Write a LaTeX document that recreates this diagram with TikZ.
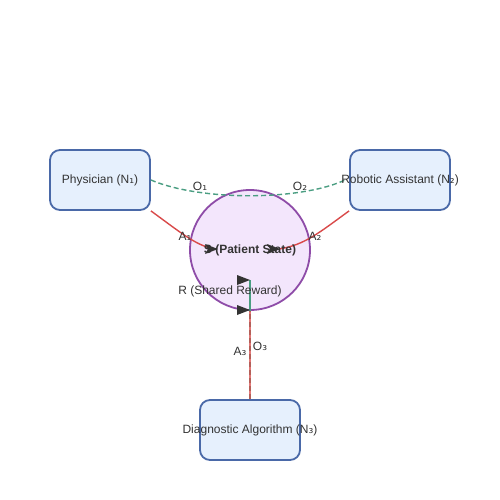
\documentclass[tikz,border=0pt]{standalone}
\usepackage{fontspec}
\setmainfont{Liberation Sans}
\newfontfamily\subfont{DejaVu Sans}
\usetikzlibrary{calc}
\definecolor{boxfill}{HTML}{E6F0FD}
\definecolor{boxdraw}{HTML}{4A69A8}
\definecolor{circfill}{HTML}{F3E6FC}
\definecolor{circdraw}{HTML}{8E4CA8}
\definecolor{redline}{HTML}{D94A4A}
\definecolor{greenline}{HTML}{4A9E82}
\definecolor{txt}{HTML}{333333}
\newcommand{\sbs}[1]{{\subfont #1}}
\tikzset{
  agent/.style={draw=boxdraw, fill=boxfill, line width=1.8pt, rounded corners=10pt, minimum width=100pt, minimum height=60pt, inner sep=0pt},
  statec/.style={circle, draw=circdraw, fill=circfill, line width=1.8pt, minimum size=120pt, inner sep=0pt},
  act/.style={draw=redline, line width=1.4pt},
  obs/.style={draw=greenline, line width=1.4pt, dash pattern=on 5pt off 3pt},
  rew/.style={draw=greenline, line width=1.4pt},
  lbl/.style={text=txt, font=\fontsize{12}{14}\selectfont, inner sep=0pt},
  tip/.style={fill=txt, draw=none},
}
\begin{document}
\begin{tikzpicture}[x=1pt,y=-1pt]
\useasboundingbox (0,0) rectangle (500,500);
\fill[white] (0,0) rectangle (500,500);
% nodes
\node[agent] (phys) at (100,180) {};
\node[agent] (robot) at (400,180) {};
\node[agent] (diag) at (250,430) {};
\node[statec] (state) at (250,250) {};
% named coordinates
\coordinate (s1) at (214,249);
\coordinate (s2) at (279,249);
\coordinate (rtop) at (250,280);
% connectors
\draw[obs] (phys.east) .. controls (200,201) and (300,201) .. (345,180);
\draw[act] (phys.south east) .. controls (180,232) and (195,245) .. (s1);
\draw[act] (robot.south west) .. controls (320,232) and (305,245) .. (s2);
\draw[obs] (diag.north) -- (state.south);
\draw[act, draw opacity=0.75] (diag.north) -- (state.south);
\draw[rew] (state.south) -- (rtop);
% arrow marks
\fill[tip] (218,249) -- (205,244) -- (208,249) -- (205,254) -- cycle;
\fill[tip] (280,249) -- (267,244) -- (270,249) -- (267,254) -- cycle;
\fill[tip] (250,280) -- (237,275) -- (237,285) -- cycle;
\fill[tip] (250,310) -- (237,305) -- (237,315) -- cycle;
% texts
\node[lbl] at (100,180.5) {Physician (N\sbs{₁})};
\node[lbl] at (400,180.5) {Robotic Assistant (N\sbs{₂})};
\node[lbl] at (250,430.5) {Diagnostic Algorithm (N\sbs{₃})};
\node[lbl, font=\fontsize{12}{14}\selectfont\bfseries] at (250,250.5) {S (Patient State)};
\node[lbl] at (230,291.5) {R (Shared Reward)};
\node[lbl] at (200,186.5) {O\sbs{₁}};
\node[lbl] at (300,186.5) {O\sbs{₂}};
\node[lbl] at (185,236.5) {A\sbs{₁}};
\node[lbl] at (315,236.5) {A\sbs{₂}};
\node[lbl] at (240,351.5) {A\sbs{₃}};
\node[lbl] at (260,346.5) {O\sbs{₃}};
\end{tikzpicture}
\end{document}
